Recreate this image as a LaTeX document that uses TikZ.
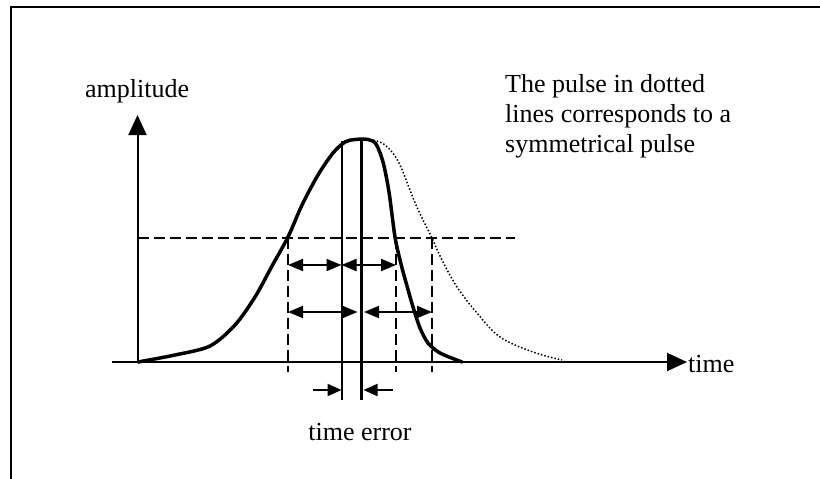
\documentclass[tikz,border=0pt]{standalone}
\usepackage{fontspec}
\setmainfont{Liberation Serif}
\usetikzlibrary{arrows.meta}
\tikzset{
    axis/.style={line width=2pt, -{Triangle[length=20pt,width=18pt]}},
    pulse/.style={line width=3.5pt, line join=round, line cap=round},
    sympulse/.style={line width=1.5pt, dotted},
    guide/.style={line width=1.8pt, dash pattern=on 11pt off 5pt},
    marker/.style={line width=2pt},
    dimarrow/.style={line width=2pt, {Triangle[length=15pt,width=12pt]}-{Triangle[length=15pt,width=12pt]}},
    errarrow/.style={line width=2pt, -{Triangle[length=14pt,width=12pt]}},
    lbl/.style={inner sep=0pt, font=\fontsize{26}{30}\selectfont}
}
\begin{document}
\begin{tikzpicture}[x=1pt,y=-1pt]
    \useasboundingbox (0,0) rectangle (820,479);
    % frame
    \draw[line width=2pt] (11,479) -- (11,7) -- (820,7);

    % axes
    \coordinate (orig) at (137.5,362);
    \coordinate (ytip) at (137.5,115);
    \coordinate (xfrom) at (112,362);
    \coordinate (xtip) at (687,362);
    \draw[axis] (orig) -- (ytip);
    \draw[axis] (xfrom) -- (xtip);
    \node (amp) [lbl, anchor=base west] at (85,97) {amplitude};
    \node (time) [lbl, anchor=base west] at (688,372) {time};

    % threshold and half-level marks
    \draw[guide] (137.5,238) -- (515,238);
    \foreach \x in {288,396,432}
        \draw[guide] (\x,238) -- (\x,372);

    % pulses
    \draw[sympulse] plot[smooth, tension=0.6] coordinates {(370,139.5) (382,143) (392,152) (400,165) (408,185) (416,205) (424,222) (432,238) (442,260) (457,287) (477,313) (500,337) (533,352) (562,360)};
    \draw[pulse] plot[smooth, tension=0.5] coordinates {(138,362) (175,355) (210,346) (235,325) (255,297) (272,266) (288,237) (302,205) (318,175) (333,153) (345,142) (355,139.5) (368,139.5) (376,144) (383,162) (389,192) (395,237) (401,264) (407,286) (413,307) (420,328) (428,343) (440,353) (462,362)};

    % centre lines
    \coordinate (ctop) at (341.5,141);
    \coordinate (cbot) at (341.5,400);
    \coordinate (stop) at (361.5,141);
    \coordinate (sbot) at (361.5,400);
    \draw[marker] (ctop) -- (cbot);
    \draw[marker, line width=3.5pt] (stop) -- (sbot);

    % half widths
    \draw[dimarrow] (288,265) -- (341.5,265);
    \draw[dimarrow] (341.5,265) -- (396,265);
    \draw[dimarrow] (288,312) -- (357.5,312);
    \draw[dimarrow] (364,312) -- (432,312);

    % time error
    \coordinate (ea) at (313,390);
    \coordinate (eb) at (393,390);
    \draw[errarrow] (ea) -- (341.5,390);
    \draw[errarrow] (eb) -- (363.5,390);
    \node (err) [lbl, anchor=base] at (360,440) {time error};

    % note
    \node (note) [lbl, anchor=north west, align=left] at (505,74) {The pulse in dotted\\lines corresponds to a\\symmetrical pulse};
\end{tikzpicture}
\end{document}
